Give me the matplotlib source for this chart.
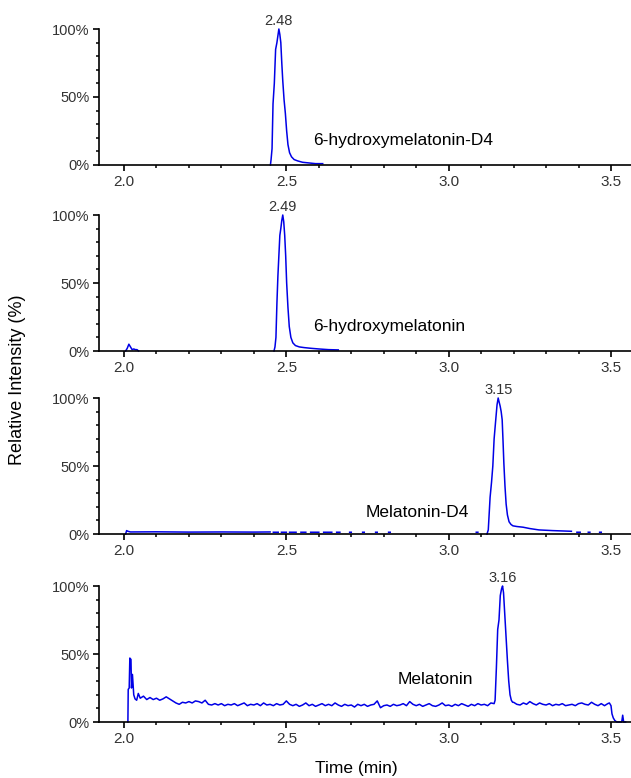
import matplotlib
matplotlib.use("Agg")
import matplotlib.pyplot as plt
import numpy as np
from matplotlib.ticker import MultipleLocator, FixedLocator

plt.rcParams['font.family'] = ['Liberation Sans', 'DejaVu Sans']

nan = np.nan

# panel 1: 6-hydroxymelatonin-D4
t1 = [2.451, 2.453, 2.456, 2.459, 2.463, 2.467, 2.471, 2.474, 2.477, 2.480,
      2.483, 2.486, 2.489, 2.493, 2.497, 2.501, 2.505, 2.510, 2.516, 2.524,
      2.535, 2.550, 2.570, 2.590, 2.612]
y1 = [0, 4, 12, 45, 60, 85, 90, 95, 100, 96,
      90, 75, 62, 48, 38, 25, 15, 9, 6, 4,
      3, 2, 1.5, 1, 1]

# panel 2: 6-hydroxymelatonin (small blip at 2.0 then the peak)
t2 = [2.005, 2.010, 2.015, 2.020, 2.025, 2.030, 2.035, 2.040, 2.045, nan,
      2.462, 2.465, 2.468, 2.471, 2.474, 2.477, 2.480, 2.483, 2.486, 2.489,
      2.492, 2.495, 2.498, 2.501, 2.505, 2.509, 2.514, 2.520, 2.528, 2.540,
      2.555, 2.575, 2.600, 2.630, 2.660]
y2 = [0, 2, 5, 3, 1, 1.5, 1, 1, 0, nan,
      0, 3, 10, 35, 55, 70, 85, 90, 96, 100,
      95, 85, 70, 50, 32, 18, 10, 6, 4, 3,
      2.5, 2, 1.5, 1, 0.8]

# panel 3: melatonin-D4 (flat baseline, broken bits, peak)
t3 = [2.005, 2.008, 2.012, 2.020, 2.100, 2.200, 2.300, 2.400, 2.450, nan,
      2.460, 2.475, nan, 2.485, 2.500, nan, 2.510, 2.530, nan, 2.545, 2.560, nan,
      2.575, 2.600, nan, 2.615, 2.640, nan, 2.655, 2.665, nan, 2.695, 2.700, nan,
      2.735, 2.740, nan, 2.775, 2.780, nan, 2.815, 2.820, nan, 3.085, 3.090, nan,
      3.118, 3.122, 3.1276, 3.132, 3.136, 3.140, 3.145, 3.149, 3.1525, 3.1555,
      3.1586, 3.1617, 3.1648, 3.1675, 3.170, 3.1735, 3.177, 3.181, 3.186, 3.192,
      3.198, 3.210, 3.229, 3.250, 3.278, 3.320, 3.378, nan,
      3.395, 3.405, nan, 3.430, 3.435, nan, 3.465, 3.470]
y3 = [0, 2.5, 2, 1.5, 1.6, 1.4, 1.5, 1.4, 1.5, nan,
      1.3, 1.3, nan, 1.3, 1.3, nan, 1.3, 1.3, nan, 1.3, 1.3, nan,
      1.3, 1.3, nan, 1.3, 1.3, nan, 1.3, 1.3, nan, 1.3, 1.3, nan,
      1.3, 1.3, nan, 1.3, 1.3, nan, 1.3, 1.3, nan, 1.3, 1.3, nan,
      0, 3, 27, 38, 50, 70, 84, 95, 100, 97,
      94, 90, 84, 68, 52, 35, 22, 14, 9, 7,
      6, 5.5, 5, 4, 3, 2.5, 2, nan,
      1.3, 1.3, nan, 1.3, 1.3, nan, 1.3, 1.3]

# panel 4: melatonin (noisy baseline)
t4_start = [2.012, 2.013, 2.016, 2.018, 2.0215, 2.023, 2.026, 2.030, 2.034, 2.039, 2.044]
y4_start = [0, 24, 25, 47, 46, 25, 35, 20, 17, 16, 21]

t4_left = np.round(np.arange(2.05, 3.1405, 0.01), 3)
y4_left = [17.5, 19, 16.5, 18, 16.5, 17.5, 16, 17, 18.5, 17,
           15.5, 14, 13, 14.5, 14, 15, 14, 15.5, 15, 14,
           16, 13, 12.5, 13.5, 12.5, 13.5, 12, 13, 12.5, 13.5,
           12, 13, 14, 12, 13, 12.5, 13.5, 12, 14, 12.5,
           13, 12, 13.5, 12.5, 13, 15.5, 13, 12, 13, 11.5,
           12.5, 14, 12, 13, 11.5, 12.5, 13.5, 12, 13, 12,
           14, 12.5, 11.5, 13, 12, 12.5, 11, 13, 12, 13,
           11.5, 12.5, 13, 15.5, 10.5, 12, 12.5, 11.5, 13, 12,
           12.5, 13.5, 12, 15, 13, 12, 13, 11.5, 12.5, 13.5,
           12, 11.5, 12.5, 14, 12, 12.5, 11.5, 13, 12, 13.5,
           12.5, 11.5, 13, 12, 13.5, 12.5, 13, 12, 14, 13.5]

t4_peak = [3.143, 3.147, 3.151, 3.155, 3.159, 3.163, 3.166, 3.169, 3.173, 3.177,
           3.181, 3.185, 3.189, 3.193, 3.197]
y4_peak = [16, 40, 68, 75, 93, 98, 100, 95, 78, 62,
           45, 30, 20, 16, 14.5]

t4_right = np.round(np.arange(3.20, 3.4905, 0.01), 3)
y4_right = [14.5, 13, 12.5, 14, 13, 15, 13.5, 12.5, 14, 13,
            12.5, 13.5, 12, 13, 12.5, 13.5, 12, 12.5, 13, 12,
            13.5, 14, 13, 12.5, 14.5, 13, 12, 13.5, 12, 13.5]

t4_end = [3.495, 3.500, 3.503, 3.507, 3.512, 3.518, 3.530, 3.533, 3.536, 3.539, 3.545]
y4_end = [14, 12, 6, 3, 1, 0, 0, 0, 5, 0, 0]

t4 = np.concatenate([t4_start, t4_left, t4_peak, t4_right, t4_end])
y4 = np.concatenate([y4_start, y4_left, y4_peak, y4_right, y4_end])

names = ['6-hydroxymelatonin-D4', '6-hydroxymelatonin', 'Melatonin-D4', 'Melatonin']
name_pos = [(2.582, 18), (2.582, 18), (2.745, 15.5), (2.843, 31.5)]
peak_rt = [2.477, 2.489, 3.1525, 3.166]
peak_lbl = ['2.48', '2.49', '3.15', '3.16']
traces = [(t1, y1), (t2, y2), (t3, y3), (t4, y4)]

W, H = 631, 778
fig = plt.figure(figsize=(W / 100, H / 100), dpi=100)

bottoms_px = [165, 351, 534, 722]
for i, (t, y) in enumerate(traces):
    ax = fig.add_axes([99 / W, 1 - bottoms_px[i] / H, (W - 99) / W, 136 / H])
    ax.plot(t, y, color='#0000e6', lw=1.1, clip_on=False)
    ax.set_xlim(1.923, 3.5616)
    ax.set_ylim(0, 100)
    ax.spines['top'].set_visible(False)
    ax.spines['right'].set_visible(False)
    for s in ['left', 'bottom']:
        ax.spines[s].set_linewidth(1.2)
    ax.xaxis.set_major_locator(FixedLocator([2.0, 2.5, 3.0, 3.5]))
    ax.xaxis.set_minor_locator(MultipleLocator(0.1))
    ax.yaxis.set_major_locator(FixedLocator([0, 50, 100]))
    ax.yaxis.set_minor_locator(MultipleLocator(10))
    ax.set_yticklabels(['0%', '50%', '100%'])
    ax.set_xticklabels(['2.0', '2.5', '3.0', '3.5'])
    ax.tick_params(which='major', length=4, width=1.2, direction='out',
                   labelcolor='#333333', pad=3)
    ax.tick_params(axis='x', which='major', labelsize=11)
    ax.tick_params(axis='y', which='major', labelsize=10.5)
    ax.tick_params(which='minor', length=2.5, width=1.1, direction='out')
    ax.text(name_pos[i][0], name_pos[i][1], names[i], fontsize=12.5,
            color='black', ha='left', va='center')
    ax.annotate(peak_lbl[i], (peak_rt[i], 100), xytext=(0, 6),
                textcoords='offset points', ha='center', va='center',
                fontsize=10.5, color='#333333', annotation_clip=False)

fig.text(18 / W, 1 - 380 / H, 'Relative Intensity (%)', rotation=90,
         ha='center', va='center', fontsize=13)
fig.text(356 / W, 1 - 768 / H, 'Time (min)', ha='center', va='center', fontsize=12.5)

fig.savefig('out.png', dpi=100)
